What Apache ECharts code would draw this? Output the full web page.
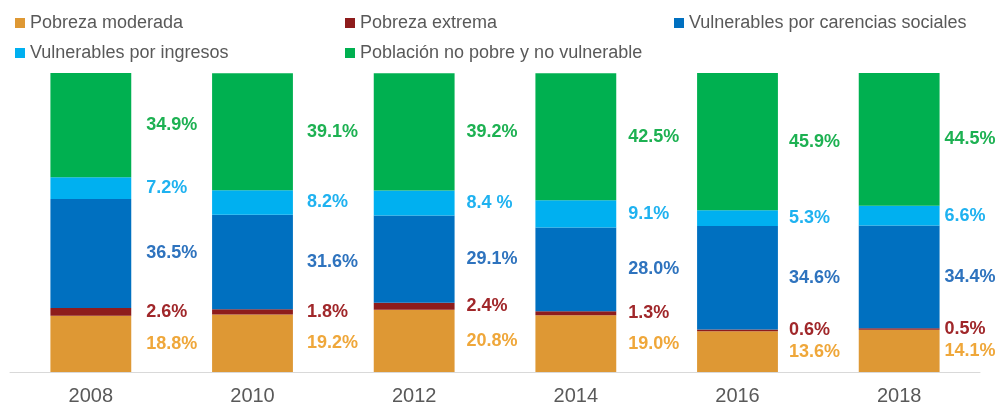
<!DOCTYPE html>
<html>
<head>
<meta charset="utf-8">
<script src="https://cdn.jsdelivr.net/npm/echarts@6/dist/echarts.min.js"></script>
<style>
  html, body { margin: 0; padding: 0; background: #fff; }
  #chart { width: 998px; height: 408px; }
</style>
</head>
<body>
<div id="chart"></div>
<script>
// datos (%)
var anios = ['2008', '2010', '2012', '2014', '2016', '2018'];
var pobModerada = [18.8, 19.2, 20.8, 19.0, 13.6, 14.1];
var pobExtrema = [2.6, 1.8, 2.4, 1.3, 0.6, 0.5];
var vulCarencias = [36.5, 31.6, 29.1, 28.0, 34.6, 34.4];
var vulIngresos = [7.2, 8.2, 8.4, 9.1, 5.3, 6.6];
var noPobre = [34.9, 39.1, 39.2, 42.5, 45.9, 44.5];

// separacion de la etiqueta respecto a la barra, por anio (estilo)
var sepEtiqueta = [15, 14, 12, 12, 11, 5];

var chart = echarts.init(document.getElementById('chart'));
var fuente = '"Liberation Sans", Arial, sans-serif';

function serie(nombre, datos, color, colorTexto, textos) {
    return {
        name: nombre,
        type: 'bar',
        stack: 'total',
        barWidth: '50%',
        data: datos.map(function (v, i) {
            return { value: v, label: { distance: sepEtiqueta[i] } };
        }),
        itemStyle: { color: color },
        label: {
            show: true,
            position: 'right',
            color: colorTexto,
            fontFamily: fuente,
            fontWeight: 'bold',
            fontSize: 18,
            formatter: function (p) {
                if (textos && textos[p.dataIndex]) return textos[p.dataIndex];
                return p.value.toFixed(1) + '%';
            }
        }
    };
}

function leyenda(izq, nombres) {
    return {
        orient: 'vertical',
        left: izq, top: 8,
        itemWidth: 10, itemHeight: 10, itemGap: 10,
        icon: 'rect',
        textStyle: { color: '#595959', fontSize: 18, lineHeight: 20 },
        data: nombres
    };
}

var option = {
    animation: false,
    textStyle: { fontFamily: fuente },
    legend: [
        leyenda(10, ['Pobreza moderada', 'Vulnerables por ingresos']),
        leyenda(340, ['Pobreza extrema', 'Población no pobre y no vulnerable']),
        leyenda(669, ['Vulnerables por carencias sociales'])
    ],
    grid: { left: 10, right: 18, top: 73, bottom: 36 },
    xAxis: {
        type: 'category',
        data: anios,
        axisLine: { lineStyle: { color: '#D9D9D9', width: 1 } },
        axisTick: { show: false },
        axisLabel: { color: '#595959', fontSize: 20, margin: 14 }
    },
    yAxis: {
        type: 'value',
        min: 0, max: 100,
        show: false
    },
    series: [
        serie('Pobreza moderada', pobModerada, '#DE9834', '#EFA73A'),
        serie('Pobreza extrema', pobExtrema, '#8E1C1C', '#A0272A'),
        serie('Vulnerables por carencias sociales', vulCarencias, '#0070C0', '#2E73BE'),
        serie('Vulnerables por ingresos', vulIngresos, '#00B0F0', '#1FB2F0', { 2: '8.4 %' }),
        serie('Población no pobre y no vulnerable', noPobre, '#00B050', '#1DB152')
    ]
};
chart.setOption(option);
</script>
</body>
</html>
